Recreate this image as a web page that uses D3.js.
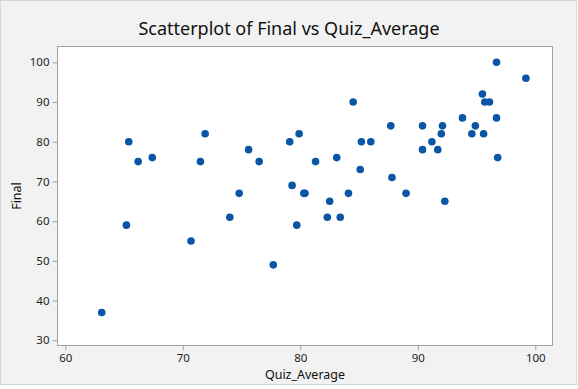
<!DOCTYPE html>
<html>
<head>
<meta charset="utf-8">
<script src="https://cdnjs.cloudflare.com/ajax/libs/d3/7.8.5/d3.min.js"></script>
<style>
  body { margin: 0; background: #fff; }
  text { font-family: "Segoe UI", "Noto Sans", sans-serif; }
</style>
</head>
<body>
<div id="chart"></div>
<script>
(function () {

  // values
  var quizAverage = [63.1, 65.2, 70.7, 74.0, 74.8, 65.4, 66.2, 67.4, 71.5, 71.9,
                     75.6, 76.5, 79.1, 79.9, 79.3, 80.3, 80.4, 81.3, 82.5, 83.1,
                     84.5, 84.1, 85.1, 85.2, 86.0, 87.7, 87.8, 89.0, 82.3, 83.4,
                     79.7, 77.7, 96.7, 99.2, 95.5, 95.7, 96.1, 93.8, 96.7, 90.4,
                     92.1, 92.0, 94.9, 94.6, 95.6, 91.2, 90.4, 91.7, 96.8, 92.3]
  var final = [37, 59, 55, 61, 67, 80, 75, 76, 75, 82,
               78, 75, 80, 82, 69, 67, 67, 75, 65, 76,
               90, 67, 73, 80, 80, 84, 71, 67, 61, 61,
               59, 49, 100, 96, 92, 90, 90, 86, 86, 84,
               84, 82, 84, 82, 82, 80, 78, 78, 76, 65]

  var xTicks = [60, 70, 80, 90, 100]
  var yTicks = [30, 40, 50, 60, 70, 80, 90, 100]

  var points = quizAverage.map(function (q, i) { return { x: q, y: final[i] } })

  var W = 578, H = 389
  var plot = { left: 57.5, top: 46.5, right: 552.5, bottom: 345.5 }

  var svg = d3.select("#chart").append("svg")
      .attr("width", W)
      .attr("height", H)

  // outer panel
  svg.append("rect")
    .attr("x", 0.5).attr("y", 0.5)
    .attr("width", 576).attr("height", 384)
    .attr("fill", "#f2f2f2")
    .attr("stroke", "#d6d6d6")

  var xScale = d3.scaleLinear()
      .domain([60, 100])
      .range([65.3, 535.3])

  var yScale = d3.scaleLinear()
      .domain([30, 100])
      .range([340.3, 62.3])

  svg.append("rect")
    .attr("x", plot.left).attr("y", plot.top)
    .attr("width", plot.right - plot.left)
    .attr("height", plot.bottom - plot.top)
    .attr("fill", "#fff")
    .attr("stroke", "#a0a0a0")

  var xAxis = svg.append("g")
      .attr("transform", "translate(0," + plot.bottom + ")")
      .call(d3.axisBottom(xScale).tickValues(xTicks).tickSize(5).tickPadding(3))
  var yAxis = svg.append("g")
      .attr("transform", "translate(" + plot.left + ",0)")
      .call(d3.axisLeft(yScale).tickValues(yTicks).tickSize(5).tickPadding(3))

  ;[xAxis, yAxis].forEach(function (ax) {
    ax.select(".domain").remove()
    ax.selectAll(".tick line").attr("stroke", "#a0a0a0")
    ax.selectAll(".tick text")
      .attr("fill", "#1e1e1e")
      .style("font-size", "11.5px")
      .style("font-family", "'Segoe UI', 'Noto Sans', sans-serif")
  })

  svg.selectAll(".pt")
    .data(points)
    .enter().append("circle")
    .attr("class", "pt")
    .attr("cx", function (d) { return xScale(d.x) })
    .attr("cy", function (d) { return yScale(d.y) })
    .attr("r", 3.8)
    .attr("fill", "#0a55a5")

  svg.append("text")
    .attr("x", 289).attr("y", 35)
    .attr("text-anchor", "middle")
    .style("font-size", "18px")
    .attr("fill", "#111")
    .text("Scatterplot of Final vs Quiz_Average")

  svg.append("text")
    .attr("x", (plot.left + plot.right) / 2).attr("y", 379)
    .attr("text-anchor", "middle")
    .style("font-size", "12.5px")
    .attr("fill", "#111")
    .text("Quiz_Average")

  svg.append("text")
    .attr("transform", "translate(21," + (plot.top + plot.bottom) / 2 + ") rotate(-90)")
    .attr("text-anchor", "middle")
    .style("font-size", "12.5px")
    .attr("fill", "#111")
    .text("Final")

})()
</script>
</body>
</html>
